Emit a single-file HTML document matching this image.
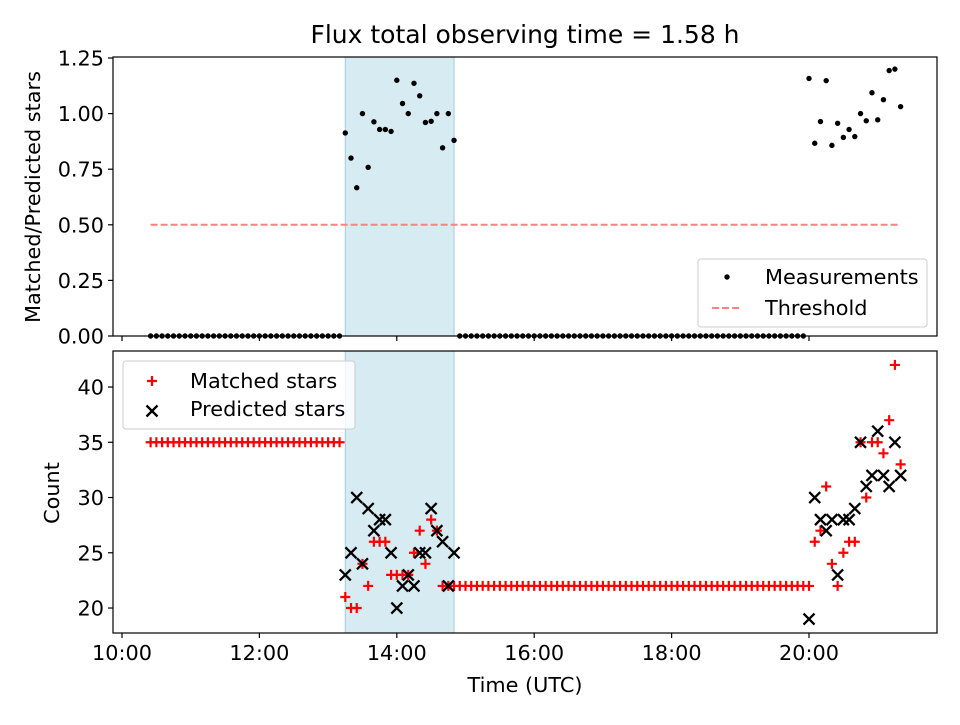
<!DOCTYPE html>
<html><head><meta charset="utf-8"><style>
body{margin:0;background:#fff}
svg text{font-family:"DejaVu Sans","Liberation Sans",sans-serif;fill:#000}
</style></head><body>
<svg id="c" width="960" height="720" viewBox="0 0 960 720" xmlns="http://www.w3.org/2000/svg"></svg>
<script>
// ---- data ----
const startMinutes = 10*60+25;   // first sample 10:25 UTC
const stepMinutes = 5;
const matched = [
35,35,35,35,35,35,35,35,35,35,35,35,35,35,35,35,35,35,35,35,35,35,35,35,35,35,35,35,35,35,35,35,35,35,
21,20,20,24,22,26,26,26,23,23,23,23,25,27,24,28,27,22,22,22,
22,22,22,22,22,22,22,22,22,22,22,22,22,22,22,22,22,22,22,22,22,22,22,22,22,22,22,22,22,22,22,22,22,22,22,22,22,22,22,22,22,22,22,22,22,22,22,22,22,22,22,22,22,22,22,22,22,22,22,22,22,
22,26,27,31,24,22,25,26,26,35,30,35,35,34,37,42,33];
const N = matched.length;
const predicted = new Array(N).fill(null);
const cluster1Start = 34;
const cluster1Pred = [23,25,30,24,29,27,28,28,25,20,22,23,22,25,25,29,27,26,22,25];
const cluster2Start = 115;
const cluster2Pred = [19,30,28,27,28,23,28,28,29,35,31,32,36,32,31,35,32];
const threshold = 0.5;
const shadeStart = 13.25, shadeEnd = 14.8333;
const xTicks = [10,12,14,16,18,20];
const xTickLabels = ["10:00","12:00","14:00","16:00","18:00","20:00"];
const topTicks = [0,0.25,0.5,0.75,1.0,1.25];
const topTickLabels = ["0.00","0.25","0.50","0.75","1.00","1.25"];
const botTicks = [20,25,30,35,40];
const botTickLabels = ["20","25","30","35","40"];
cluster1Pred.forEach((v,i)=>predicted[cluster1Start+i]=v);
cluster2Pred.forEach((v,i)=>predicted[cluster2Start+i]=v);

// ---- axes ----
const L=113,R=937,T1=57,B1=336,T2=351,B2=633;
const xMin=9.869,xMax=21.863;
const X=h=>L+(h-xMin)/(xMax-xMin)*(R-L);
const Y1=v=>B1-(v-(-0.0))/(1.2545-0)*(B1-T1);
const Y2=v=>B2-(v-17.74)/(43.26-17.74)*(B2-T2);
const times=[];for(let i=0;i<N;i++)times.push((startMinutes+i*stepMinutes)/60);
const ratio=matched.map((m,i)=>predicted[i]?m/predicted[i]:0);
const FS='20.8';

const svg=document.getElementById('c');
const NS='http://www.w3.org/2000/svg';
function mk(tag,attrs,parent){const e=document.createElementNS(NS,tag);for(const k in attrs)e.setAttribute(k,attrs[k]);(parent||svg).appendChild(e);return e;}

// title
let t=mk('text',{x:525,y:43,'text-anchor':'middle','font-size':'25'});t.textContent='Flux total observing time = 1.58 h';



// shading
[[T1,B1,'top-shaded-span'],[T2,B2,'bottom-shaded-span']].forEach(([a,b,n])=>{
 const r=mk('rect',{x:X(shadeStart),y:a,width:X(shadeEnd)-X(shadeStart),height:b-a,fill:'#add8e6','fill-opacity':'0.5',stroke:'#9fcfdc','stroke-width':'1'});
 
 
});

// top panel: threshold
const th=mk('line',{x1:X(times[0]),x2:X(times[N-1]),y1:Y1(threshold),y2:Y1(threshold),stroke:'#ff8080','stroke-width':'2','stroke-dasharray':'7,3'});


// measurements
const gm=mk('g',{});


ratio.forEach((v,i)=>{const c=mk('circle',{cx:X(times[i]),cy:Y1(v),r:2.7,fill:'#000'},gm);
 
 });

// bottom markers
function plus(x,y,col,g){mk('path',{d:`M${x-5},${y}H${x+5}M${x},${y-5}V${y+5}`,stroke:col,'stroke-width':'2.2',fill:'none'},g);}
function cross(x,y,col,g){mk('path',{d:`M${x-5.5},${y-5.5}L${x+5.5},${y+5.5}M${x-5.5},${y+5.5}L${x+5.5},${y-5.5}`,stroke:col,'stroke-width':'2.3',fill:'none'},g);}
const gp=mk('g',{});


matched.forEach((v,i)=>plus(X(times[i]),Y2(v),'#ff0000',gp));
const gx=mk('g',{});


predicted.forEach((v,i)=>{if(v!=null)cross(X(times[i]),Y2(v),'#000',gx);});

// frames & ticks
function frame(a,b,name){const r=mk('rect',{x:L,y:a,width:R-L,height:b-a,fill:'none',stroke:'#000','stroke-width':'1.2'});
 }
frame(T1,B1,'top-axes-frame');frame(T2,B2,'bottom-axes-frame');
xTicks.forEach((h,i)=>{
 mk('line',{x1:X(h),x2:X(h),y1:B1,y2:B1+5,stroke:'#000','stroke-width':'1.2'});
 mk('line',{x1:X(h),x2:X(h),y1:B2,y2:B2+5,stroke:'#000','stroke-width':'1.2'});
 const tx=mk('text',{x:X(h),y:B2+27,'text-anchor':'middle','font-size':FS});tx.textContent=xTickLabels[i];
 
});
topTicks.forEach((v,i)=>{
 mk('line',{x1:L-5,x2:L,y1:Y1(v),y2:Y1(v),stroke:'#000','stroke-width':'1.2'});
 const tx=mk('text',{x:L-9,y:Y1(v)+7.5,'text-anchor':'end','font-size':FS});tx.textContent=topTickLabels[i];
 
});
botTicks.forEach((v,i)=>{
 mk('line',{x1:L-5,x2:L,y1:Y2(v),y2:Y2(v),stroke:'#000','stroke-width':'1.2'});
 const tx=mk('text',{x:L-9,y:Y2(v)+7.5,'text-anchor':'end','font-size':FS});tx.textContent=botTickLabels[i];
 
});
let a=mk('text',{x:525,y:692,'text-anchor':'middle','font-size':FS});a.textContent='Time (UTC)';

a=mk('text',{transform:'translate(40,197) rotate(-90)','text-anchor':'middle','font-size':FS});a.textContent='Matched/Predicted stars';

a=mk('text',{transform:'translate(59,493) rotate(-90)','text-anchor':'middle','font-size':FS});a.textContent='Count';


// legends
const lg1=mk('g',{});


mk('rect',{x:698,y:259,width:229,height:68,rx:3,fill:'#fff','fill-opacity':'0.8',stroke:'#ccc'},lg1);
mk('circle',{cx:727,cy:277,r:2.7,fill:'#000'},lg1);
let lt=mk('text',{x:765,y:284,'font-size':FS},lg1);lt.textContent='Measurements';
mk('line',{x1:712,x2:742,y1:308,y2:308,stroke:'#ff8080','stroke-width':'2','stroke-dasharray':'7,3'},lg1);
lt=mk('text',{x:765,y:315,'font-size':FS},lg1);lt.textContent='Threshold';
const lg2=mk('g',{});


mk('rect',{x:123,y:361,width:232,height:68,rx:3,fill:'#fff','fill-opacity':'0.8',stroke:'#ccc'},lg2);
plus(152,381,'#ff0000',lg2);
lt=mk('text',{x:190,y:388,'font-size':FS},lg2);lt.textContent='Matched stars';
cross(152,411,'#000',lg2);
lt=mk('text',{x:190,y:416,'font-size':FS},lg2);lt.textContent='Predicted stars';
</script>
</body></html>
